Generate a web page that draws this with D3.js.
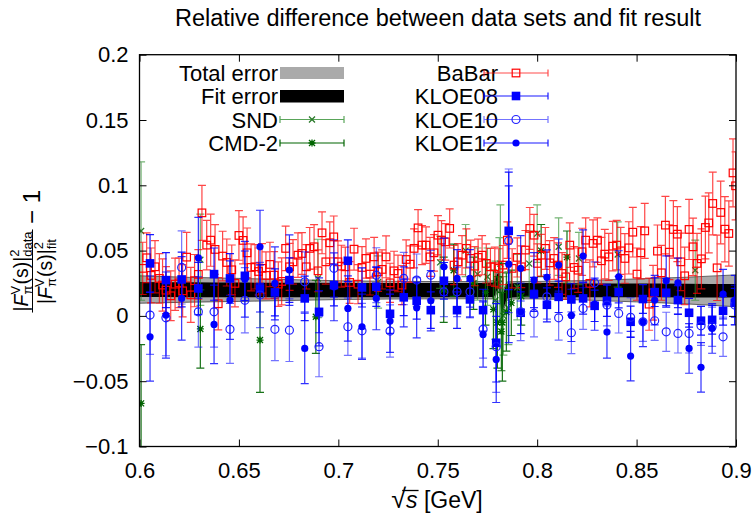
<!DOCTYPE html>
<html><head><meta charset="utf-8">
<script src="https://cdn.jsdelivr.net/npm/d3@7"></script>
<style>body{margin:0;background:#fff}svg{display:block}text{font-family:"Liberation Sans",Arial,Helvetica,sans-serif;fill:#000}</style>
</head><body><svg id="c" width="755" height="516"></svg>
<script>
// ---------- data ----------
const yTicks = [-0.1, -0.05, 0, 0.05, 0.1, 0.15, 0.2];
const xTicks = [0.6, 0.65, 0.7, 0.75, 0.8, 0.85, 0.9];

// fit band (relative)
const bandX   = [0.600,0.625,0.650,0.675,0.700,0.725,0.750,0.770,0.778,0.7805,0.7825,0.785,0.790,0.800,0.825,0.850,0.875,0.900];
const bandC   = [0.0202,0.0200,0.0199,0.0198,0.0197,0.0197,0.0197,0.0197,0.0200,0.0270,0.0110,0.0190,0.0197,0.0197,0.0196,0.0195,0.0194,0.0192];
const fitErr  = [0.0058,0.0057,0.0056,0.0055,0.0055,0.0054,0.0054,0.0054,0.0056,0.0060,0.0060,0.0056,0.0054,0.0054,0.0053,0.0053,0.0053,0.0052];
const totErr  = [0.0105,0.0095,0.0088,0.0080,0.0072,0.0068,0.0066,0.0066,0.0070,0.0080,0.0080,0.0070,0.0066,0.0067,0.0075,0.0088,0.0102,0.0122];

// BaBar
const babarX = [0.6016,0.6036,0.6058,0.6078,0.6100,0.6116,0.6133,0.6157,0.6179,0.6199,0.6217,0.6237,0.6258,0.6277,0.6296,0.6314,0.6338,0.6358,0.6380,0.6396,
0.6418,0.6439,0.6464,0.6480,0.6500,0.6521,0.6541,0.6561,0.6581,0.6599,0.6616,0.6636,0.6656,0.6677,0.6698,0.6715,0.6735,0.6755,0.6772,0.6797,
0.6817,0.6839,0.6856,0.6878,0.6898,0.6918,0.6937,0.6957,0.6977,0.6998,0.7015,0.7035,0.7057,0.7079,0.7099,0.7119,0.7139,0.7159,0.7180,0.7200,
0.7220,0.7240,0.7260,0.7280,0.7300,0.7320,0.7341,0.7361,0.7381,0.7401,0.7421,0.7441,0.7461,0.7481,0.7501,0.7519,0.7538,0.7560,0.7582,0.7602,
0.7622,0.7644,0.7666,0.7686,0.7703,0.7723,0.7744,0.7765,0.7787,0.7807,0.7828,0.7850,0.7874,0.7900,0.7920,0.7941,0.7963,0.7984,0.8001,0.8021,
0.8041,0.8063,0.8085,0.8105,0.8125,0.8144,0.8164,0.8186,0.8206,0.8226,0.8244,0.8265,0.8281,0.8303,0.8323,0.8340,0.8360,0.8380,0.8400,0.8420,
0.8441,0.8461,0.8481,0.8502,0.8521,0.8541,0.8563,0.8583,0.8605,0.8625,0.8645,0.8665,0.8685,0.8705,0.8722,0.8742,0.8764,0.8784,0.8804,0.8826,
0.8846,0.8863,0.8883,0.8905,0.8923,0.8944,0.8964,0.8985,0.8998];
const babarV = [0.0364,0.0445,0.0310,0.0376,0.0287,0.0236,0.0197,0.0154,0.0243,0.0253,0.0192,0.0450,0.0161,0.0270,0.0318,0.0789,0.0542,0.0580,0.0509,0.0093,
0.0458,0.0409,0.0353,0.0249,0.0616,0.0578,0.0483,0.0371,0.0376,0.0340,0.0364,0.0310,0.0394,0.0312,0.0243,0.0264,0.0517,0.0376,0.0414,0.0465,
0.0478,0.0376,0.0517,0.0529,0.0345,0.0636,0.0414,0.0560,0.0605,0.0414,0.0381,0.0376,0.0256,0.0511,0.0243,0.0371,0.0440,0.0320,0.0452,0.0338,
0.0356,0.0452,0.0253,0.0345,0.0325,0.0236,0.0432,0.0396,0.0517,0.0674,0.0542,0.0542,0.0452,0.0483,0.0618,0.0580,0.0567,0.0670,0.0389,0.0414,
0.0465,0.0517,0.0440,0.0381,0.0448,0.0465,0.0402,0.0376,0.0376,0.0364,0.0389,0.0580,0.0364,0.0448,0.0376,0.0504,0.0670,0.0618,0.0402,0.0465,
0.0517,0.0406,0.0440,0.0389,0.0325,0.0299,0.0542,0.0371,0.0350,0.0491,0.0580,0.0249,0.0555,0.0580,0.0422,0.0473,0.0452,0.0534,0.0542,0.0498,
0.0440,0.0521,0.0641,0.0320,0.0483,0.0651,0.0090,0.0177,0.0496,0.0330,0.0695,0.0488,0.0662,0.0626,0.0414,0.0307,0.0662,0.0529,0.0402,0.0437,
0.0677,0.0712,0.0861,0.0368,0.0792,0.0664,0.0631,0.1095,0.0996];
const babarE = [0.020,0.019,0.021,0.020,0.019,0.020,0.018,0.019,0.020,0.019,0.020,0.019,0.021,0.020,0.019,0.021,0.019,0.020,0.019,0.020,
0.019,0.018,0.019,0.018,0.019,0.018,0.019,0.018,0.017,0.018,0.019,0.018,0.017,0.018,0.017,0.018,0.017,0.018,0.017,0.017,
0.016,0.017,0.016,0.017,0.016,0.016,0.017,0.016,0.016,0.016,0.016,0.015,0.016,0.016,0.015,0.016,0.015,0.016,0.015,0.015,
0.015,0.016,0.015,0.015,0.014,0.015,0.015,0.014,0.015,0.014,0.015,0.014,0.015,0.014,0.015,0.015,0.014,0.015,0.015,0.014,
0.015,0.015,0.014,0.015,0.014,0.015,0.015,0.014,0.015,0.015,0.015,0.014,0.015,0.015,0.016,0.015,0.016,0.016,0.015,0.016,
0.016,0.017,0.016,0.017,0.016,0.017,0.017,0.016,0.017,0.018,0.017,0.018,0.018,0.017,0.018,0.019,0.018,0.019,0.019,0.018,
0.019,0.020,0.019,0.020,0.020,0.021,0.020,0.021,0.020,0.021,0.022,0.021,0.022,0.021,0.022,0.022,0.023,0.022,0.023,0.023,
0.024,0.023,0.024,0.025,0.024,0.025,0.025,0.026,0.026];

// KLOE (common energy points)
const kloeX = [0.6053,0.6133,0.6212,0.6296,0.6375,0.6455,0.6530,0.6606,0.6681,0.6754,0.6831,0.6903,0.6978,0.7048,0.7119,0.7191,0.7260,0.7329,0.7394,0.7465,
0.7531,0.7597,0.7662,0.7728,0.7794,0.7857,0.7917,0.7984,0.8049,0.8108,0.8172,0.8231,0.8289,0.8351,0.8410,0.8470,0.8532,0.8591,0.8649,0.8708,
0.8764,0.8824,0.8880,0.8935,0.8994];
const kloe08V = [0.0402,0.0274,0.0279,0.0210,0.0320,0.0287,0.0307,0.0210,0.0180,0.0274,0.0134,0.0031,0.0236,0.0422,0.0218,0.0223,0.0016,0.0142,0.0116,0.0044,
0.0269,0.0044,0.0126,0.0044,-0.0206,0.0651,0.0024,0.0165,0.0085,0.0146,0.0126,0.0134,0.0077,0.0116,0.0182,-0.0045,0.0129,0.0182,0.0177,0.0121,
0.0024,-0.0037,-0.0030,0.0039,0.0100];
const kloe08E = [0.022,0.021,0.021,0.020,0.020,0.019,0.019,0.018,0.018,0.017,0.017,0.016,0.016,0.016,0.015,0.015,0.015,0.014,0.014,0.014,
0.014,0.014,0.014,0.016,0.030,0.045,0.016,0.013,0.013,0.012,0.012,0.012,0.012,0.012,0.012,0.012,0.011,0.011,0.011,0.011,
0.011,0.011,0.011,0.011,0.011];
const kloe10V = [0.0006,-0.0015,0.0371,0.0031,0.0031,-0.0103,0.0120,0.0160,-0.0103,-0.0109,0.0261,-0.0236,0.0364,-0.0083,-0.0114,0.0312,-0.0116,0.0287,0.0274,0.0312,
0.0184,0.0184,0.0184,-0.0103,-0.0236,0.0575,0.0031,0.0019,0.0146,-0.0015,-0.0129,0.0057,0.0253,0.0083,0.0019,-0.0011,-0.0045,-0.0037,-0.0122,-0.0134,
-0.0134,-0.0076,-0.0083,-0.0160,0.0083];
const kloe10E = [0.030,0.029,0.028,0.027,0.027,0.026,0.025,0.025,0.024,0.024,0.023,0.023,0.022,0.022,0.021,0.021,0.020,0.020,0.020,0.019,
0.019,0.019,0.019,0.022,0.035,0.055,0.022,0.018,0.017,0.017,0.016,0.016,0.016,0.016,0.015,0.015,0.015,0.015,0.015,0.015,
0.015,0.015,0.015,0.015,0.015];
const kloe12V = [-0.0160,0.0006,0.0134,0.0445,-0.0065,0.0121,0.0280,0.0529,0.0249,0.0351,-0.0249,0.0031,0.0223,0.0057,-0.0083,0.0134,-0.0040,0.0146,0.0062,0.0116,
0.0376,0.0287,0.0287,-0.0142,-0.0333,0.0396,0.0364,0.0274,0.0295,0.0389,0.0004,0.0458,0.0090,-0.0124,0.0299,-0.0308,-0.0045,0.0121,0.0269,0.0253,
-0.0249,-0.0394,-0.0096,0.0167,0.0121];
const kloe12E = [0.034,0.033,0.032,0.031,0.030,0.030,0.029,0.028,0.028,0.027,0.027,0.026,0.026,0.025,0.025,0.024,0.024,0.023,0.023,0.023,
0.022,0.022,0.022,0.025,0.033,0.060,0.025,0.021,0.021,0.020,0.020,0.020,0.020,0.020,0.020,0.019,0.019,0.019,0.019,0.019,
0.019,0.019,0.019,0.019,0.019];

// SND
const sndX = [0.6008,0.6306,0.6897,0.7200,0.7512,0.7640,0.7700,0.7750,0.7790,0.7810,0.7815,0.7830,0.7855,0.7900,0.7960,0.8000,0.8108,0.8210,0.8405,0.8795];
const sndV = [0.065,0.043,0.0287,0.026,0.041,0.050,0.032,0.030,0.012,0.028,0.040,0.000,0.006,0.022,0.040,0.063,0.053,0.044,0.047,0.035];
const sndE = [0.053,0.035,0.030,0.020,0.020,0.020,0.020,0.022,0.030,0.032,0.045,0.030,0.028,0.025,0.025,0.022,0.022,0.020,0.025,0.023];
// CMD-2
const cmdX = [0.6008,0.6306,0.6606,0.6887,0.7530,0.7580,0.7680,0.7740,0.7780,0.7800,0.7820,0.7825,0.7845,0.7870,0.7920,0.8020,0.8150];
const cmdV = [-0.067,-0.010,-0.0185,-0.0007,0.020,0.035,0.025,0.018,0.005,-0.005,-0.012,-0.005,0.003,0.010,0.015,0.050,0.045];
const cmdE = [0.045,0.030,0.040,0.028,0.025,0.020,0.020,0.025,0.030,0.035,0.030,0.045,0.030,0.025,0.022,0.020,0.020];

// ---------- drawing ----------
const svg = d3.select("#c");
const L = 139.5, R = 736, T = 54.7, B = 446.5;
const x = d3.scaleLinear().domain([0.6, 0.9]).range([L, R]);
const y = d3.scaleLinear().domain([-0.1, 0.2]).range([B, T]);

svg.append("defs").append("clipPath").attr("id","clip")
  .append("rect").attr("x",L).attr("y",T).attr("width",R-L).attr("height",B-T);

// title
svg.append("text").attr("x",438).attr("y",26).attr("text-anchor","middle")
  .attr("font-size",23.5).text("Relative difference between data sets and fit result");

const plot = svg.append("g").attr("clip-path","url(#clip)");

// bands
const band = bandX.map((v,i)=>({x:v,c:bandC[i],f:fitErr[i],t:totErr[i]}));
plot.append("path").datum(band)
  .attr("d", d3.area().curve(d3.curveMonotoneX).x(d=>x(d.x)).y0(d=>y(d.c-d.t)).y1(d=>y(d.c+d.t)))
  .attr("fill","#aaaaaa").attr("stroke","#444").attr("stroke-width",0.8);
plot.append("path").datum(band)
  .attr("d", d3.area().curve(d3.curveMonotoneX).x(d=>x(d.x)).y0(d=>y(d.c-d.f)).y1(d=>y(d.c+d.f)))
  .attr("fill","#000");

function drawMarker(g, type, cx, cy, col) {
  if (type==="osq") g.append("rect").attr("x",cx-3.8).attr("y",cy-3.8).attr("width",7.6).attr("height",7.6).attr("fill","none").attr("stroke",col).attr("stroke-width",1.2);
  else if (type==="fsq") g.append("rect").attr("x",cx-4.3).attr("y",cy-4.3).attr("width",8.6).attr("height",8.6).attr("fill",col);
  else if (type==="ocirc") g.append("circle").attr("cx",cx).attr("cy",cy).attr("r",4).attr("fill","none").attr("stroke",col).attr("stroke-width",1.2);
  else if (type==="fcirc") g.append("circle").attr("cx",cx).attr("cy",cy).attr("r",3.6).attr("fill",col);
  else if (type==="x") g.append("path").attr("d",`M${cx-3},${cy-3}L${cx+3},${cy+3}M${cx-3},${cy+3}L${cx+3},${cy-3}`).attr("stroke",col).attr("stroke-width",1.3);
  else if (type==="ast") g.append("path").attr("d",`M${cx-3},${cy-3}L${cx+3},${cy+3}M${cx-3},${cy+3}L${cx+3},${cy-3}M${cx-3.5},${cy}L${cx+3.5},${cy}M${cx},${cy-3.5}L${cx},${cy+3.5}`).attr("stroke",col).attr("stroke-width",1.3);
}

function drawSeries(xs, vs, es, o) {
  const g = plot.append("g");
  const bars = g.append("g").attr("stroke",o.bar).attr("stroke-width",1.2).attr("opacity",o.op);
  xs.forEach((xv,i)=>{
    const px = x(xv), y1 = y(vs[i]-es[i]), y2 = y(vs[i]+es[i]);
    bars.append("path").attr("d",`M${px},${y1}V${y2}M${px-4},${y1}H${px+4}M${px-4},${y2}H${px+4}`).attr("fill","none");
  });
  xs.forEach((xv,i)=> drawMarker(g, o.m, x(xv), y(vs[i]), o.mc));
}

drawSeries(sndX, sndV, sndE, {bar:"#2f8f2f", op:0.65, m:"x", mc:"#2a7a2a"});
drawSeries(cmdX, cmdV, cmdE, {bar:"#006400", op:0.9, m:"ast", mc:"#006400"});
drawSeries(babarX, babarV, babarE, {bar:"#ff0000", op:0.72, m:"osq", mc:"#ff0000"});
drawSeries(kloeX, kloe08V, kloe08E, {bar:"#0000ff", op:0.9, m:"fsq", mc:"#0000ff"});
drawSeries(kloeX, kloe10V, kloe10E, {bar:"#0000ff", op:0.55, m:"ocirc", mc:"#2222ff"});
drawSeries(kloeX, kloe12V, kloe12E, {bar:"#0000ff", op:0.8, m:"fcirc", mc:"#0000ff"});

// axes
const fmtY = d => d===0 ? "0" : (d<0 ? "\u2212" : "") + String(+Math.abs(d).toFixed(2));
const ax = (g)=>{ g.select(".domain").remove(); g.selectAll("line").attr("stroke","#000").attr("stroke-width",1); g.selectAll("text").attr("font-size",22).attr("fill","#000"); };
svg.append("g").attr("transform",`translate(${L},0)`)
  .call(d3.axisLeft(y).tickValues(yTicks).tickFormat(fmtY).tickSizeInner(-7).tickSizeOuter(0).tickPadding(11)).call(ax);
svg.append("g").attr("transform",`translate(${R},0)`)
  .call(d3.axisRight(y).tickValues(yTicks).tickFormat("").tickSizeInner(-7).tickSizeOuter(0)).call(ax);
svg.append("g").attr("transform",`translate(0,${B})`)
  .call(d3.axisBottom(x).tickValues(xTicks).tickFormat(d=>String(+d.toFixed(2))).tickSizeInner(-7).tickSizeOuter(0).tickPadding(16)).call(ax);
svg.append("g").attr("transform",`translate(0,${T})`)
  .call(d3.axisTop(x).tickValues(xTicks).tickFormat("").tickSizeInner(-7).tickSizeOuter(0)).call(ax);
svg.append("rect").attr("x",L).attr("y",T).attr("width",R-L).attr("height",B-T)
  .attr("fill","none").attr("stroke","#000").attr("stroke-width",1.3);

// x label: sqrt(s) [GeV]
const xl = svg.append("text").attr("y",508).attr("font-size",23);
xl.append("tspan").attr("font-size",27).text("\u221A");
xl.append("tspan").attr("font-style","italic").text("s");
xl.append("tspan").text(" [GeV]");
const xw = xl.node().getComputedTextLength();
xl.attr("x", 437 - xw/2);
{
  const n = xl.node();
  const s0 = n.getStartPositionOfChar(0), e1 = n.getEndPositionOfChar(1);
  svg.append("line").attr("x1",s0.x+11).attr("x2",e1.x+1).attr("y1",490.5).attr("y2",490.5).attr("stroke","#000").attr("stroke-width",1.3);
}

// y label (rotated math)
const yg = svg.append("g").attr("transform","rotate(-90)");
function mathRow(g, cx, base, parts) {
  const grp = g.append("g");
  let cur = 0;
  parts.forEach(p=>{
    if (p.t !== undefined) {
      const t = grp.append("text").attr("x",cur).attr("y",base).attr("font-size",p.s).attr("font-style",p.it?"italic":"normal").text(p.t);
      cur += t.node().getComputedTextLength();
    } else {
      const a = grp.append("text").attr("x",cur).attr("y",base-p.up).attr("font-size",p.s).text(p.sup);
      const b = grp.append("text").attr("x",cur).attr("y",base+p.dn).attr("font-size",p.s).text(p.sub);
      cur += Math.max(a.node().getComputedTextLength(), b.node().getComputedTextLength()) + 1;
    }
  });
  grp.attr("transform",`translate(${cx-cur/2},0)`);
  return cur;
}
const num = [{t:"|",s:19.5},{t:"F",s:19.5,it:true},{sup:"V",sub:"\u03C0",s:13,up:8,dn:4},{t:"(s)|",s:19.5},{sup:"2",sub:"data",s:13,up:9,dn:4}];
const den = [{t:"|",s:19.5},{t:"F",s:19.5,it:true},{sup:"V",sub:"\u03C0",s:13,up:8,dn:4},{t:"(s)|",s:19.5},{sup:"2",sub:"fit",s:13,up:9,dn:4}];
const w1 = mathRow(yg, -271, 27.5, num);
const w2 = mathRow(yg, -271, 51.5, den);
const fw = Math.max(w1, w2) + 2;
yg.append("line").attr("x1",-271-fw/2).attr("x2",-271+fw/2).attr("y1",32.5).attr("y2",32.5).attr("stroke","#000").attr("stroke-width",1);
yg.append("text").attr("x",-224).attr("y",39.5).attr("font-size",24).text("\u2212 1");

// legend
const lg = svg.append("g");
const rowsL = [73, 96, 119.5, 143];
const leftLab = ["Total error","Fit error","SND","CMD-2"];
leftLab.forEach((t,i)=> lg.append("text").attr("x",278).attr("y",rowsL[i]+8).attr("text-anchor","end").attr("font-size",22).text(t));
lg.append("rect").attr("x",280).attr("y",67).attr("width",64).attr("height",12).attr("fill","#aaaaaa");
lg.append("rect").attr("x",280).attr("y",90).attr("width",64).attr("height",12.5).attr("fill","#000");
function legErr(x0, x1, yy, col, op, m, mc) {
  lg.append("path").attr("d",`M${x0},${yy}H${x1}M${x0},${yy-3.5}V${yy+3.5}M${x1},${yy-3.5}V${yy+3.5}`).attr("stroke",col).attr("stroke-width",1.2).attr("opacity",op).attr("fill","none");
  drawMarker(lg, m, (x0+x1)/2, yy, mc);
}
legErr(280, 344, rowsL[2], "#2f8f2f", 0.8, "x", "#2a7a2a");
legErr(280, 344, rowsL[3], "#006400", 1, "ast", "#006400");
const rightLab = ["BaBar","KLOE08","KLOE10","KLOE12"];
rightLab.forEach((t,i)=> lg.append("text").attr("x",498).attr("y",rowsL[i]+8).attr("text-anchor","end").attr("font-size",22).text(t));
legErr(484, 548, rowsL[0], "#ff0000", 0.7, "osq", "#ff0000");
legErr(484, 548, rowsL[1], "#0000ff", 0.9, "fsq", "#0000ff");
legErr(484, 548, rowsL[2], "#0000ff", 0.55, "ocirc", "#2222ff");
legErr(484, 548, rowsL[3], "#0000ff", 0.9, "fcirc", "#0000ff");
</script></body></html>
